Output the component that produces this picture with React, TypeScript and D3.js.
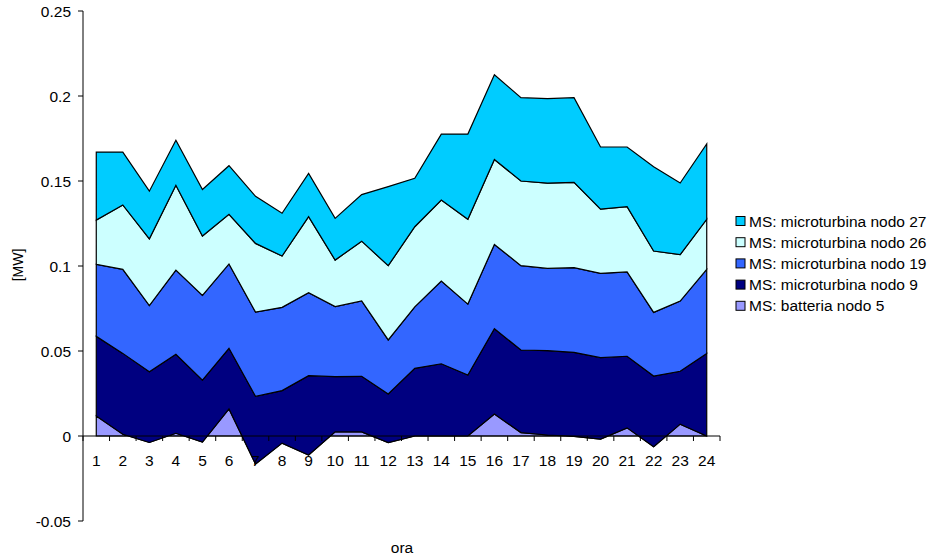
import React from "react";
import * as d3 from "d3";

// Hours of the day (x categories)
const hours: number[] = d3.range(1, 25);

// Power output per unit, MW, one value per hour
const batteria5: number[] = [0.0118, 0.001, -0.0038, 0.0016, -0.0036, 0.0159, -0.0165, -0.0042, -0.0112, 0.0024, 0.0024, -0.0039, 0, 0, 0, 0.0129, 0.002, 0.0006, -0.0002, -0.0018, 0.0048, -0.0063, 0.007, 0];
const micro9: number[] = [0.0468, 0.0476, 0.0416, 0.0465, 0.0365, 0.0357, 0.0398, 0.0309, 0.0467, 0.0325, 0.0327, 0.0286, 0.0398, 0.0425, 0.0359, 0.0502, 0.0486, 0.0496, 0.0494, 0.0479, 0.0421, 0.0416, 0.0311, 0.0486];
const micro19: number[] = [0.0424, 0.0494, 0.0389, 0.0495, 0.0498, 0.0496, 0.0496, 0.049, 0.0488, 0.0412, 0.0443, 0.0318, 0.0362, 0.0487, 0.0417, 0.0496, 0.0496, 0.0484, 0.0498, 0.0496, 0.0496, 0.0374, 0.0413, 0.0494];
const micro26: number[] = [0.026, 0.0379, 0.0393, 0.0499, 0.0349, 0.0292, 0.0404, 0.0302, 0.0447, 0.0274, 0.0352, 0.0437, 0.0471, 0.0476, 0.0499, 0.05, 0.0498, 0.0502, 0.0502, 0.0378, 0.0384, 0.0361, 0.0273, 0.0295];
const micro27: number[] = [0.04, 0.0311, 0.028, 0.0265, 0.0274, 0.0286, 0.0277, 0.0251, 0.0255, 0.0245, 0.0274, 0.0465, 0.0285, 0.0388, 0.0501, 0.0498, 0.049, 0.0496, 0.0498, 0.0365, 0.0351, 0.0496, 0.0421, 0.0443];

const seriesNames: string[] = [
  "MS: batteria nodo 5",
  "MS: microturbina nodo 9",
  "MS: microturbina nodo 19",
  "MS: microturbina nodo 26",
  "MS: microturbina nodo 27",
];
const seriesColors: string[] = ["#9999FF", "#000080", "#3366FF", "#CCFFFF", "#00CCFF"];
const seriesValues: number[][] = [batteria5, micro9, micro19, micro26, micro27];

const yTicks: number[] = [-0.05, 0, 0.05, 0.1, 0.15, 0.2, 0.25];
const yTickLabels: string[] = ["-0.05", "0", "0.05", "0.1", "0.15", "0.2", "0.25"];

const W = 935;
const H = 558;
const FONT = "'Liberation Sans', Arial, sans-serif";
const FS = 15.5;

export default function App() {
  const plotLeft = 83;
  const plotRight = 720;
  const x = d3.scalePoint<number>().domain(hours).range([plotLeft, plotRight]).padding(0.5);
  const step = x.step();
  const y = d3.scaleLinear().domain([-0.05, 0.25]).range([521, 11]);

  const rows = hours.map((h, i) => {
    const r: Record<string, number> = { hour: h };
    seriesNames.forEach((n, k) => (r[n] = seriesValues[k][i]));
    return r;
  });
  const stacked = d3.stack<Record<string, number>>().keys(seriesNames).offset(d3.stackOffsetNone)(rows);

  const area = d3
    .area<d3.SeriesPoint<Record<string, number>>>()
    .x((d) => x(d.data.hour) as number)
    .y0((d) => y(d[0]))
    .y1((d) => y(d[1]));

  const y0 = y(0);
  const boundaries = d3.range(0, hours.length + 1).map((k) => plotLeft + k * step);

  const legendX = 736;
  const legendY0 = 221;
  const legendStep = 21.2;
  const legendOrder = [4, 3, 2, 1, 0];

  return (
    <svg width={W} height={H} style={{ position: "absolute", left: 0, top: 0, background: "#fff" }} fontFamily={FONT}>
      <rect x={0} y={0} width={W} height={H} fill="#fff" />
      {stacked.map((s, k) => (
        <path key={s.key} d={area(s) || ""} fill={seriesColors[k]} stroke="#000" strokeWidth={1.2} strokeLinejoin="miter" />
      ))}

      {/* value axis */}
      <line x1={plotLeft} x2={plotLeft} y1={y(0.25)} y2={y(-0.05)} stroke="#000" strokeWidth={1} />
      {yTicks.map((t, i) => (
        <g key={t}>
          <line x1={plotLeft - 5} x2={plotLeft} y1={y(t)} y2={y(t)} stroke="#000" />
          <text x={71} y={y(t) + 5.5} textAnchor="end" fontSize={FS} fill="#000">
            {yTickLabels[i]}
          </text>
        </g>
      ))}

      {/* category axis at zero */}
      <line x1={plotLeft} x2={plotRight} y1={y0} y2={y0} stroke="#000" strokeWidth={1} />
      {boundaries.map((bx, i) => (
        <line key={i} x1={bx} x2={bx} y1={y0} y2={y0 + 5} stroke="#000" />
      ))}
      {hours.map((h) => (
        <text key={h} x={x(h) as number} y={465.5} textAnchor="middle" fontSize={FS} fill="#000">
          {h}
        </text>
      ))}

      <text x={402} y={553} textAnchor="middle" fontSize={FS} fill="#000">
        ora
      </text>
      <text transform="translate(23,265) rotate(-90)" textAnchor="middle" fontSize={14} fill="#000">
        [MW]
      </text>

      {/* legend */}
      {legendOrder.map((k, i) => {
        const cy = legendY0 + i * legendStep;
        return (
          <g key={k}>
            <rect x={legendX} y={cy - 4.5} width={9} height={9} fill={seriesColors[k]} stroke="#000" strokeWidth={1} />
            <text x={749} y={cy + 5.5} fontSize={FS} fill="#000">
              {seriesNames[k]}
            </text>
          </g>
        );
      })}
    </svg>
  );
}
